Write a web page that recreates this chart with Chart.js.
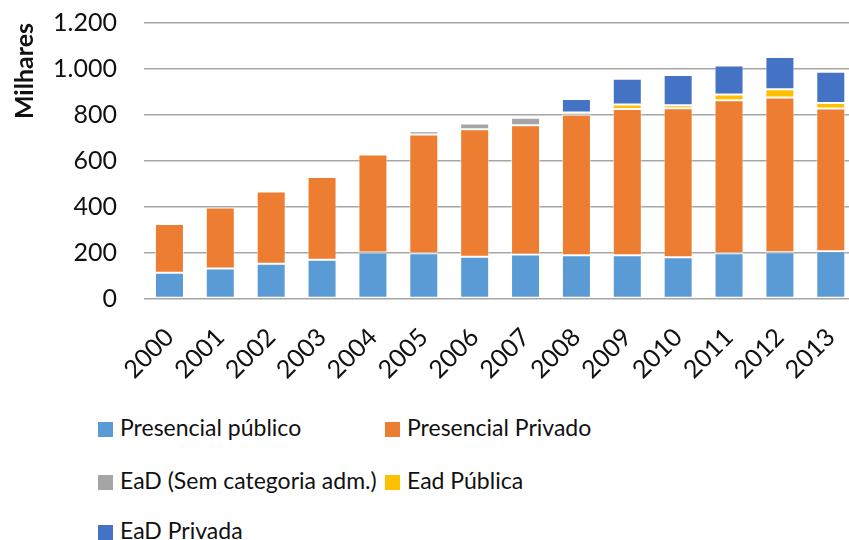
<!DOCTYPE html>
<html lang="pt-BR">
<head>
<meta charset="utf-8">
<title>Matrículas por modalidade</title>
<script src="https://cdn.jsdelivr.net/npm/chart.js@4.4.1/dist/chart.umd.min.js"></script>
<style>
  html, body { margin: 0; padding: 0; background: #fff; overflow: hidden; }
  #wrap { position: relative; width: 849px; height: 540px; overflow: hidden; }
  #box { position: absolute; left: 0; top: 0; width: 868px; height: 400px; }
  #legenda { position: absolute; left: 0; top: 0; font-family: Lato, sans-serif; font-size: 23px; color: #111; }
  .item { position: absolute; white-space: nowrap; line-height: 26px; }
  .item span { display: inline-block; width: 15px; height: 15px; margin-right: 7px; vertical-align: -1px; }
</style>
</head>
<body>
<div id="wrap">
  <div id="box"><canvas id="grafico"></canvas></div>
  <div id="legenda"></div>
</div>
<script>
const anos = ["2000", "2001", "2002", "2003", "2004", "2005", "2006", "2007", "2008", "2009", "2010", "2011", "2012", "2013"];

// valores em milhares de matrículas
const presencialPublico = [112, 131, 151, 169, 200, 197, 182, 192, 188, 188, 180, 197, 201, 206];
const presencialPrivado = [213, 265, 315, 360, 427, 517, 555, 563, 612, 637, 649, 667, 675, 622];
const eadSemCategoria = [0, 0, 0, 2, 6, 15, 25, 32, 0, 0, 0, 0, 0, 0];
const eadPublica = [0, 0, 0, 0, 0, 0, 0, 0, 10, 20, 13, 25, 35, 24];
const eadPrivada = [0, 0, 0, 0, 0, 0, 0, 0, 59, 112, 131, 126, 141, 136];

const fonte = "Lato, sans-serif";

function milhar(v) {
  if (v >= 1000) {
    const resto = String(v % 1000).padStart(3, "0");
    return Math.floor(v / 1000) + "." + resto;
  }
  return String(v);
}

function serie(label, data, cor) {
  return {
    label: label,
    data: data,
    backgroundColor: cor,
    borderColor: "rgba(255,255,255,0.55)",
    borderWidth: 1,
    borderSkipped: false,
    barPercentage: 0.57,
    categoryPercentage: 1,
  };
}

const grafico = new Chart(document.getElementById("grafico"), {
  type: "bar",
  data: {
    labels: anos,
    datasets: [
      serie("Presencial público", presencialPublico, "#5B9BD5"),
      serie("Presencial Privado", presencialPrivado, "#ED7D31"),
      serie("EaD (Sem categoria adm.)", eadSemCategoria, "#A5A5A5"),
      serie("Ead Pública", eadPublica, "#FFC000"),
      serie("EaD Privada", eadPrivada, "#4472C4"),
    ],
  },
  options: {
    responsive: true,
    maintainAspectRatio: false,
    animation: false,
    layout: { padding: { top: 23, right: 0, left: 0, bottom: 0 } },
    plugins: {
      legend: { display: false },
      tooltip: { enabled: false },
    },
    scales: {
      x: {
        stacked: true,
        grid: { display: false },
        border: { display: false },
        ticks: {
          color: "#111",
          font: { family: fonte, size: 25 },
          minRotation: 45,
          maxRotation: 45,
          padding: 16,
        },
        afterFit: function (scale) {
          scale.height = 101.5;
        },
      },
      y: {
        stacked: true,
        min: 0,
        max: 1200,
        border: { display: false },
        grid: {
          // o recuo dos rótulos vem do tickLength (invisível), não do padding
          drawTicks: true,
          tickLength: 27,
          tickColor: "transparent",
          lineWidth: function (ctx) {
            return ctx.tick && ctx.tick.value % 200 === 0 ? 1.5 : 1.2;
          },
          color: function (ctx) {
            return ctx.tick && ctx.tick.value % 200 === 0 ? "#a6a6a6" : "#d6d6d6";
          },
        },
        ticks: {
          stepSize: 100,
          padding: 0,
          color: "#111",
          font: { family: fonte, size: 25 },
          callback: function (v) {
            return v % 200 === 0 ? milhar(v) : "";
          },
        },
        title: {
          display: true,
          text: "Milhares",
          align: "end",
          color: "#111",
          font: { family: fonte, size: 25, weight: "bold" },
          padding: { top: 10, bottom: 0 },
        },
        afterFit: function (scale) {
          scale.width = 144;
        },
      },
    },
  },
});

// legenda em duas colunas, como no Excel
const posicoes = [
  [98, 414], [385, 414],
  [98, 467], [385, 467],
  [98, 517],
];
const legenda = document.getElementById("legenda");
grafico.data.datasets.forEach(function (ds, i) {
  const item = document.createElement("div");
  item.className = "item";
  item.style.left = posicoes[i][0] + "px";
  item.style.top = posicoes[i][1] + "px";
  const quadrado = document.createElement("span");
  quadrado.style.background = ds.backgroundColor;
  item.appendChild(quadrado);
  item.appendChild(document.createTextNode(ds.label));
  legenda.appendChild(item);
});
</script>
</body>
</html>
